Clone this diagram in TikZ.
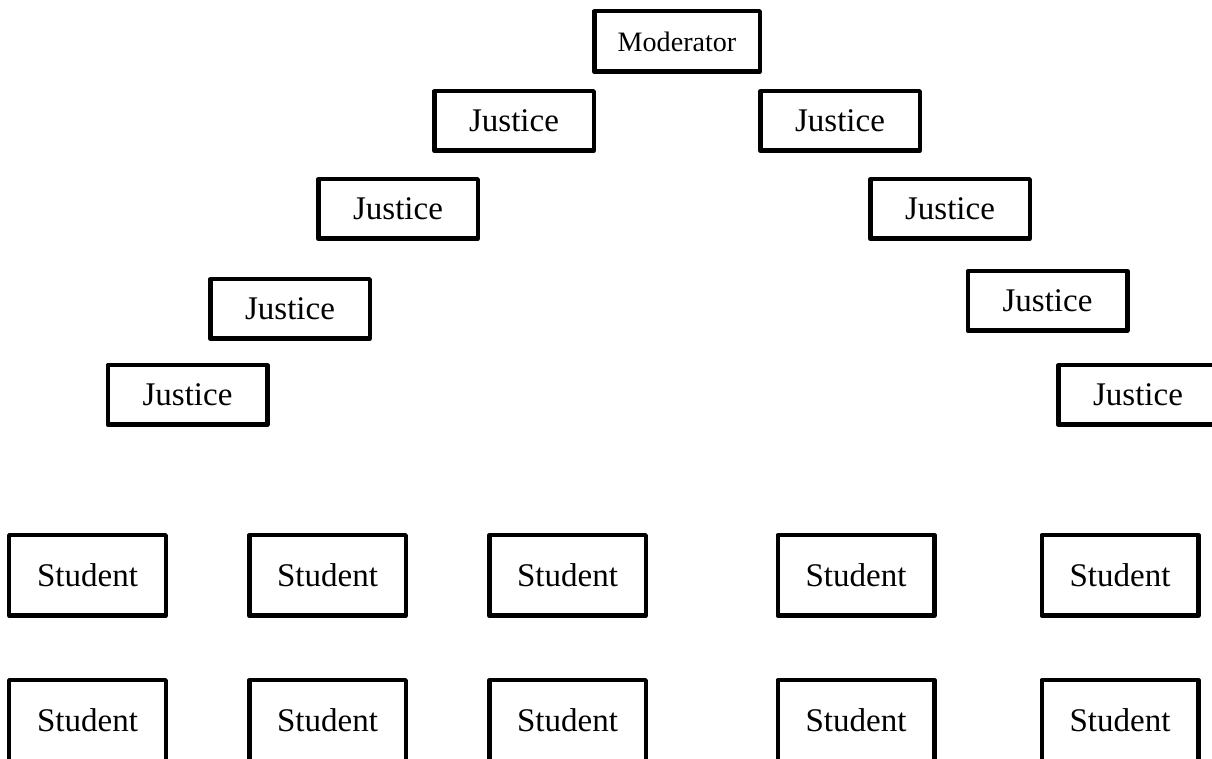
\documentclass[tikz,border=0pt]{standalone}
\usepackage{fontspec}
\setmainfont{Liberation Serif}
\usepackage{tikz}
\tikzset{box/.style={draw=black, line width=1.28pt, line join=round, inner sep=0pt, font=\fontsize{9.4}{11}\selectfont}}
\tikzset{judge/.style={box, minimum width=1.595cm, minimum height=0.595cm}}
\tikzset{pupil/.style={box, minimum width=1.565cm, minimum height=0.805cm}}

\begin{document}
\begin{tikzpicture}
		\useasboundingbox (0,0) rectangle (12.12,7.59);
		
		\node[box, minimum width=1.655cm, minimum height=0.605cm, font=\fontsize{8}{10}\selectfont] (mod) at (6.77,7.175) {Moderator};
		
		\node[judge] (jl1) at (5.14,6.38) {Justice};
		\node[judge] (jr1) at (8.40,6.38) {Justice};
		
		\node[judge] (jl2) at (3.98,5.50) {Justice};
		\node[judge] (jr2) at (9.50,5.50) {Justice};
		
		\node[judge] (jl3) at (2.90,4.50) {Justice};
		\node[judge] (jr3) at (10.475,4.58) {Justice};
		
		\node[judge] (jl4) at (1.875,3.64) {Justice};
		\node[judge] (jr4) at (11.38,3.64) {Justice};
		
		\foreach \x [count=\i] in {0.875,3.275,5.675,8.56,11.20} {
			\node[pupil] (sa\i) at (\x,1.835) {Student};
			\node[pupil] (sb\i) at (\x,0.385) {Student};
		}
	\end{tikzpicture}
\end{document}
